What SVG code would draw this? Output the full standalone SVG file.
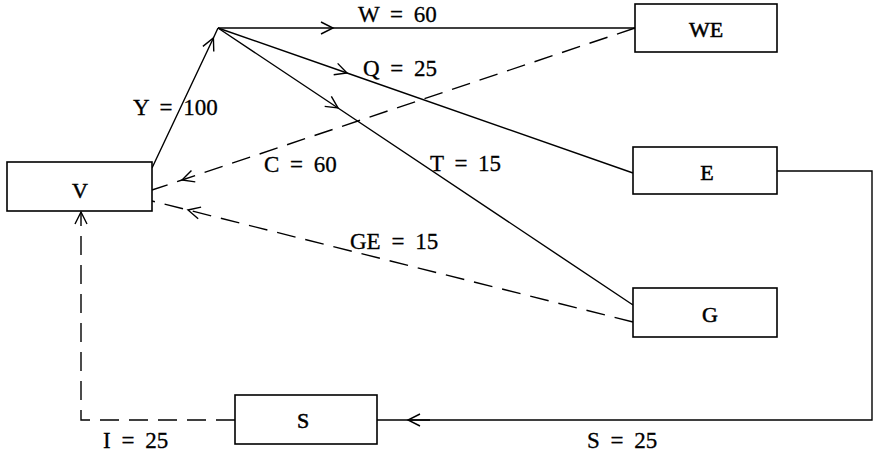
<svg xmlns="http://www.w3.org/2000/svg" width="874" height="452" viewBox="0 0 874 452">
<style>
.box{fill:#fff;stroke:#000;stroke-width:1.6}
.ln{fill:none;stroke:#000;stroke-width:1.4}
.dash{fill:none;stroke:#000;stroke-width:1.4;stroke-dasharray:19 10}
.nl{font-family:"Liberation Serif","Times New Roman",serif;font-size:22px;text-anchor:middle;fill:#000;stroke:#000;stroke-width:0.5}
.el{font-family:"Liberation Serif","Times New Roman",serif;font-size:23px;word-spacing:5px;fill:#000;stroke:#000;stroke-width:0.3}
</style>
<defs>
<marker id="chev" viewBox="0 0 12 12" refX="12" refY="6" markerWidth="12" markerHeight="12" markerUnits="userSpaceOnUse" orient="auto" overflow="visible">
<path d="M0 0 L12 6 L0 12" fill="none" stroke="#000" stroke-width="1.4" stroke-dasharray="none"/>
</marker>
</defs>
<rect width="874" height="452" fill="#fff"/>
<g id="connectors">
<path id="e-Y" class="ln" d="M152 168 L213.4 38 L218 28" marker-mid="url(#chev)"/>
<path id="e-W" class="ln" d="M218 28 L333 28 L635 28" marker-mid="url(#chev)"/>
<path id="e-Q" class="ln" d="M218 28 L347 73 L633 173" marker-mid="url(#chev)"/>
<path id="e-T" class="ln" d="M218 28 L338 108 L633 305" marker-mid="url(#chev)"/>
<path id="e-C" class="dash" d="M635 28 L182 180 L152 190" marker-mid="url(#chev)"/>
<path id="e-GE" class="dash" d="M633 322 L188 210 L152 201" marker-mid="url(#chev)"/>
<path id="e-S" class="ln" d="M777 171 L872 171 L872 420 L377 420"/>
<path id="e-S-head" class="ln" d="M430 420 L408 420" marker-end="url(#chev)"/>
<path id="e-I" class="dash" d="M235 420 L81 420 L81 212" marker-end="url(#chev)"/>
</g>
<g id="labels">
<text class="el" x="358" y="22">W = 60</text>
<text class="el" x="363" y="76">Q = 25</text>
<text class="el" x="133" y="115">Y = 100</text>
<text class="el" x="264" y="172">C = 60</text>
<text class="el" x="430" y="171">T = 15</text>
<text class="el" x="350" y="249">GE = 15</text>
<text class="el" x="103" y="448">I = 25</text>
<text class="el" x="587" y="448">S = 25</text>
</g>
<g id="node-V"><rect class="box" x="7" y="162" width="145" height="49"/><text class="nl" x="80" y="198">V</text></g>
<g id="node-WE"><rect class="box" x="635" y="4" width="142" height="48"/><text class="nl" x="706" y="37">WE</text></g>
<g id="node-E"><rect class="box" x="633" y="147" width="144" height="47"/><text class="nl" x="707" y="180">E</text></g>
<g id="node-G"><rect class="box" x="633" y="288" width="144" height="49"/><text class="nl" x="710" y="322">G</text></g>
<g id="node-S"><rect class="box" x="235" y="395" width="142" height="49"/><text class="nl" x="303" y="428">S</text></g>
</svg>
